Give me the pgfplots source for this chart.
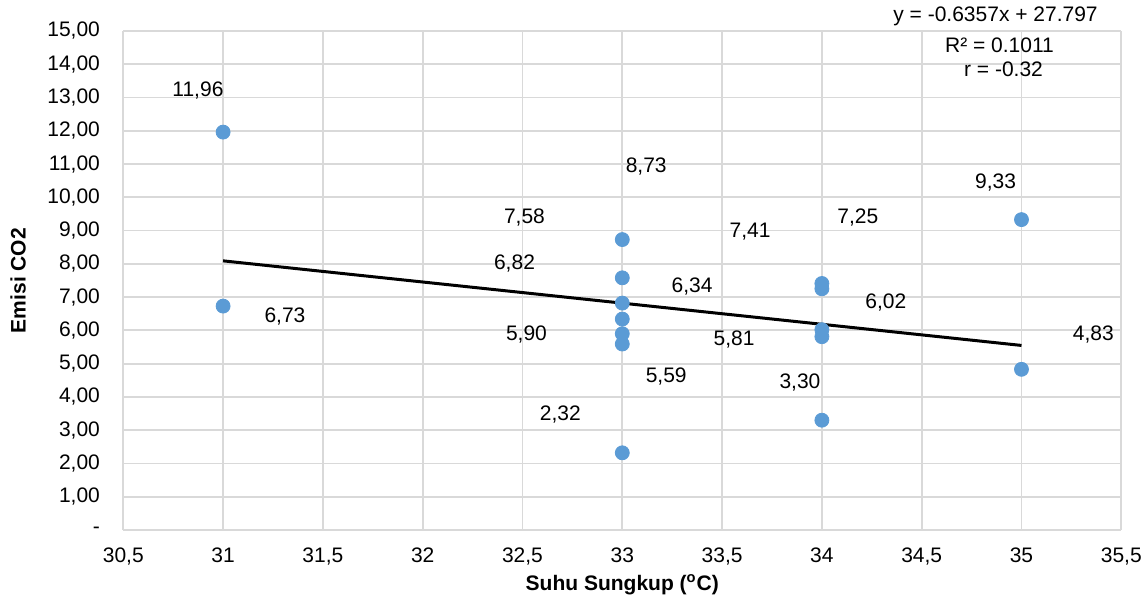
\documentclass[border=0pt]{standalone}
\usepackage{pgfplots}
\pgfplotsset{compat=1.18}
\usepackage{fontspec}
\setmainfont{Liberation Sans}
\definecolor{ptblue}{HTML}{5B9BD5}
\definecolor{gridgray}{HTML}{D9D9D9}
\begin{document}
\fontsize{10.5}{12.5}\selectfont
\begin{tikzpicture}
\useasboundingbox (-61.65pt,-36.5pt) rectangle (512.35pt,265pt);
\begin{axis}[
  scale only axis, width=499pt, height=249.5pt,
  xmin=30.5, xmax=35.5, ymin=0, ymax=15,
  xtick={30.5,31,...,35.5}, ytick={0,1,...,15},
  yticklabels={{-},{1,00},{2,00},{3,00},{4,00},{5,00},{6,00},{7,00},{8,00},{9,00},{10,00},{11,00},{12,00},{13,00},{14,00},{15,00}},
  /pgf/number format/use comma,
  /pgf/number format/assume math mode=true,
  grid=major, grid style={gridgray, line width=0.9pt},
  axis line style={draw=none}, major tick length=0pt,
  ticklabel style={font=\fontsize{10.5}{12.5}\selectfont},
  xticklabel style={yshift=-5pt},
  yticklabel style={xshift=-8pt},
  xlabel={\textbf{Suhu Sungkup (\textsuperscript{o}C)}},
  ylabel={\textbf{Emisi CO2}},
  xlabel style={at={(axis description cs:0.5,-0.11)}, anchor=center},
  ylabel style={at={(axis description cs:-0.1054,0.5)}, anchor=center},
  label style={font=\fontsize{10.5}{12.5}\selectfont},
  clip=false,
]
\addplot[only marks, mark=*, mark size=3.5pt, color=ptblue] coordinates {
  (31,11.96) (31,6.73)
  (33,8.73) (33,7.58) (33,6.82) (33,6.34) (33,5.90) (33,5.59) (33,2.32)
  (34,7.41) (34,7.25) (34,6.02) (34,5.81) (34,3.30)
  (35,9.33) (35,4.83)
};
\addplot[black, line width=1.5pt] coordinates {(31,8.0903) (35,5.5475)};
\node at (axis cs:30.874,13.22) {11,96};
\node at (axis cs:31.31,6.43) {6,73};
\node at (axis cs:33.12,10.94) {8,73};
\node at (axis cs:32.51,9.38) {7,58};
\node at (axis cs:32.46,8.00) {6,82};
\node at (axis cs:33.35,7.33) {6,34};
\node at (axis cs:32.52,5.89) {5,90};
\node at (axis cs:33.56,5.74) {5,81};
\node at (axis cs:33.22,4.60) {5,59};
\node at (axis cs:32.69,3.46) {2,32};
\node at (axis cs:33.64,8.96) {7,41};
\node at (axis cs:34.18,9.38) {7,25};
\node at (axis cs:34.32,6.85) {6,02};
\node at (axis cs:33.89,4.42) {3,30};
\node at (axis cs:34.87,10.46) {9,33};
\node at (axis cs:35.36,5.89) {4,83};
\node at (axis cs:34.87,15.45) {y = -0.6357x + 27.797};
\node at (axis cs:34.89,14.58) {R² = 0.1011};
\node at (axis cs:34.91,13.86) {r = -0.32};
\end{axis}
\end{tikzpicture}
\end{document}
